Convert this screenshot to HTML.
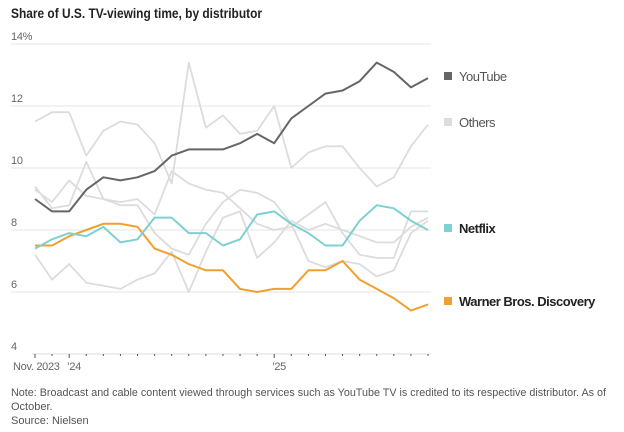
<!DOCTYPE html>
<html><head><meta charset="utf-8"><style>
html,body{margin:0;padding:0;background:#fff;}
body{width:624px;height:432px;overflow:hidden;font-family:"Liberation Sans",sans-serif;}
svg{display:block}
</style></head><body>
<svg id="chart" width="624" height="432" xmlns="http://www.w3.org/2000/svg">
<text x="11" y="18" font-size="14" font-weight="bold" fill="#222" textLength="251" lengthAdjust="spacingAndGlyphs">Share of U.S. TV-viewing time, by distributor</text>
<g id="grid"></g>
<g id="yticks"></g>
<g id="xaxis"></g>
<g id="lines"></g>
<g id="legend"></g>
<text x="11" y="396" font-size="11" fill="#555" textLength="595" lengthAdjust="spacingAndGlyphs">Note: Broadcast and cable content viewed through services such as YouTube TV is credited to its respective distributor. As of</text>
<text x="11" y="410" font-size="11" fill="#555">October.</text>
<text x="11" y="424" font-size="11" fill="#555">Source: Nielsen</text>
</svg>
<script>
const months = 24;
const yTicks = [4,6,8,10,12,14];
const yTickLabels = ["4","6","8","10","12","14%"];
const youtube = [9.0,8.6,8.6,9.3,9.7,9.6,9.7,9.9,10.4,10.6,10.6,10.6,10.8,11.1,10.8,11.6,12.0,12.4,12.5,12.8,13.4,13.1,12.6,12.9];
const netflix = [7.4,7.7,7.9,7.8,8.1,7.6,7.7,8.4,8.4,7.9,7.9,7.5,7.7,8.5,8.6,8.2,7.9,7.5,7.5,8.3,8.8,8.7,8.3,8.0];
const wbd = [7.5,7.5,7.8,8.0,8.2,8.2,8.1,7.4,7.2,6.9,6.7,6.7,6.1,6.0,6.1,6.1,6.7,6.7,7.0,6.4,6.1,5.8,5.4,5.6];
const others = [11.5,11.8,11.8,10.4,11.2,11.5,11.4,10.8,9.5,13.4,11.3,11.7,11.1,11.2,12.0,10.0,10.5,10.7,10.7,10.0,9.4,9.7,10.7,11.4];
const grey1 = [9.4,8.7,8.8,10.2,9.0,8.8,8.8,7.9,7.4,7.2,8.2,8.9,9.3,9.2,8.9,8.2,7.0,6.8,7.0,6.9,6.5,6.7,7.9,8.3];
const grey2 = [9.3,8.9,9.6,9.1,9.0,8.9,9.0,8.5,9.9,9.5,9.3,9.2,8.7,8.2,8.0,8.1,8.5,8.9,7.9,7.2,7.1,7.1,8.6,8.6];
const grey3 = [7.2,6.4,6.9,6.3,6.2,6.1,6.4,6.6,7.3,6.0,7.3,8.4,8.6,7.1,7.6,8.3,8.0,8.2,8.0,7.8,7.6,7.6,8.1,8.4];
const xLabels = [[0,"Nov. 2023"],[2,"\u201924"],[14,"\u201925"]];
const NS="http://www.w3.org/2000/svg";
const x = i => 35 + i*(428-35)/(months-1);
const y = v => 354 - 31*(v-4);
function mk(tag, attrs, parent){const e=document.createElementNS(NS,tag);for(const k in attrs)e.setAttribute(k,attrs[k]);parent.appendChild(e);return e;}
const grid=document.getElementById('grid'), yt=document.getElementById('yticks'), xa=document.getElementById('xaxis'), lines=document.getElementById('lines'), lg=document.getElementById('legend');
yTicks.forEach((v,i)=>{
  if(v>4){const g=mk('line',{x1:11,x2:431,y1:y(v),y2:y(v),stroke:'#e6e6e6','stroke-width':1},grid);
  
  }
  const t=mk('text',{x:11,y:y(v)-4,'font-size':11,fill:'#666','letter-spacing':'-0.3'},yt);
  t.textContent=yTickLabels[i];
  
  
});
const base=mk('line',{x1:32,x2:431,y1:354,y2:354,stroke:'#ddd','stroke-width':1},xa);


for(let i=0;i<months;i++){
  const big = xLabels.some(l=>l[0]===i);
  const t=mk('line',{x1:x(i),x2:x(i),y1:354,y2:big?358:356,stroke:'#555','stroke-width':1},xa);
  
  
}
xLabels.forEach(l=>{
  const t=mk('text',{x:l[0]===0?13:x(l[0])-2,y:370,'font-size':11,fill:'#666','letter-spacing':'-0.3'},xa);
  t.textContent=l[1];
  
  
});
function drawLine(data,color,w,name){
  const p=mk('polyline',{points:data.map((v,i)=>x(i)+','+y(v)).join(' '),fill:'none',stroke:color,'stroke-width':w,'stroke-linejoin':'round'},lines);
  
  
}
drawLine(grey1,'#dcdcdc',1.8,'line-other-1');
drawLine(grey2,'#dcdcdc',1.8,'line-other-2');
drawLine(grey3,'#dcdcdc',1.8,'line-other-3');
drawLine(others,'#dcdcdc',1.8,'line-others');
drawLine(wbd,'#f0a030',2,'line-warner-bros-discovery');
drawLine(netflix,'#7fd0d0',2,'line-netflix');
drawLine(youtube,'#666666',2,'line-youtube');
const legendItems=[["YouTube","#666666",76,false,"#555"],["Others","#dcdcdc",122,false,"#555"],["Netflix","#7fd0d0",228,true,"#222"],["Warner Bros. Discovery","#f0a030",301,true,"#222"]];
legendItems.forEach(it=>{
  const r=mk('rect',{x:444,y:it[2]-4,width:8,height:8,fill:it[1]},lg);
  
  
  const t=mk('text',{x:459,y:it[2]+5,'font-size':13,fill:it[4],'font-weight':it[3]?'bold':'normal','letter-spacing':'-0.5'},lg);
  t.textContent=it[0];
  
  
});
</script>
</body></html>
